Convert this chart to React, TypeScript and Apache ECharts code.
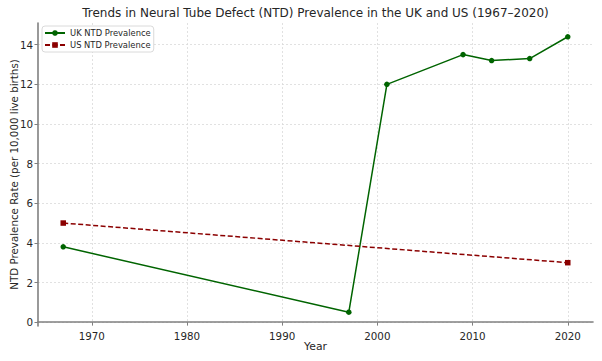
import React, { useEffect, useRef } from "react";
import * as echarts from "echarts";

const ukYears = [1967, 1997, 2001, 2009, 2012, 2016, 2020];
const ukValues = [3.8, 0.5, 12.0, 13.5, 13.2, 13.3, 14.4];
const usYears = [1967, 2020];
const usValues = [5.0, 3.0];
const xTicks = [1970, 1980, 1990, 2000, 2010, 2020];
const yTicks = [0, 2, 4, 6, 8, 10, 12, 14];

const FONT = "DejaVu Sans";

export default function App() {
  const ref = useRef<HTMLDivElement>(null);
  useEffect(() => {
    if (!ref.current) return;
    const chart = echarts.init(ref.current, undefined, { renderer: "svg" });
    const gridLine = { show: true, lineStyle: { color: "#d9d9d9", type: [2, 2], width: 0.8 } };
    chart.setOption({
      animation: false,
      backgroundColor: "#fff",
      title: {
        text: "Trends in Neural Tube Defect (NTD) Prevalence in the UK and US (1967–2020)",
        left: 315.5,
        textAlign: "center",
        top: 7,
        padding: 0,
        textStyle: { fontFamily: FONT, fontSize: 12, fontWeight: "normal", color: "#262626" },
      },
      legend: {
        orient: "vertical",
        left: 42,
        top: 26,
        itemWidth: 20,
        itemHeight: 7,
        itemGap: 4,
        padding: [3, 3, 3, 2],
        backgroundColor: "#fff",
        borderColor: "#d0d0d0",
        borderWidth: 0.8,
        borderRadius: 3,
        textStyle: { fontFamily: FONT, fontSize: 8.4, color: "#262626" },
        data: ["UK NTD Prevalence", "US NTD Prevalence"],
      },
      grid: { left: 38, right: 9, top: 23, bottom: 35, containLabel: false, outerBoundsMode: "none" },
      xAxis: {
        type: "value",
        min: 1964.35,
        max: 2022.65,
        name: "Year",
        nameLocation: "middle",
        nameGap: 15,
        nameMoveOverlap: false,
        nameTextStyle: { fontFamily: FONT, fontSize: 10.8, color: "#262626" },
        axisLine: { show: true, lineStyle: { color: "#808080", width: 1.6 } },
        axisTick: { show: true, length: 3.5, lineStyle: { color: "#808080" }, customValues: xTicks },
        axisLabel: {
          fontFamily: FONT,
          fontSize: 10.3,
          color: "#262626",
          margin: 5,
          customValues: xTicks,
          formatter: (v: number) => String(v),
        },
        splitLine: gridLine,
      },
      yAxis: {
        type: "value",
        min: -0.195,
        max: 15.095,
        name: "NTD Prevalence Rate (per 10,000 live births)",
        nameLocation: "middle",
        nameGap: 19,
        nameMoveOverlap: false,
        nameTextStyle: { fontFamily: FONT, fontSize: 10.3, color: "#262626" },
        axisLine: { show: true, lineStyle: { color: "#808080", width: 1.6 } },
        axisTick: { show: true, length: 3.5, lineStyle: { color: "#808080" }, customValues: yTicks },
        axisLabel: { fontFamily: FONT, fontSize: 10.3, color: "#262626", margin: 5, customValues: yTicks },
        splitLine: gridLine,
      },
      series: [
        {
          name: "UK NTD Prevalence",
          type: "line",
          data: ukYears.map((y, i) => [y, ukValues[i]]),
          symbol: "circle",
          symbolSize: 5.5,
          itemStyle: { color: "#006400" },
          lineStyle: { color: "#006400", width: 1.5 },
        },
        {
          name: "US NTD Prevalence",
          type: "line",
          data: usYears.map((y, i) => [y, usValues[i]]),
          symbol: "rect",
          symbolSize: 5.5,
          itemStyle: { color: "#8b0000" },
          lineStyle: { color: "#8b0000", width: 1.5, type: [5, 2.5] },
        },
      ],
    });
    return () => chart.dispose();
  }, []);
  return <div ref={ref} style={{ width: 602, height: 361, position: "absolute", left: 0, top: 0 }} />;
}
